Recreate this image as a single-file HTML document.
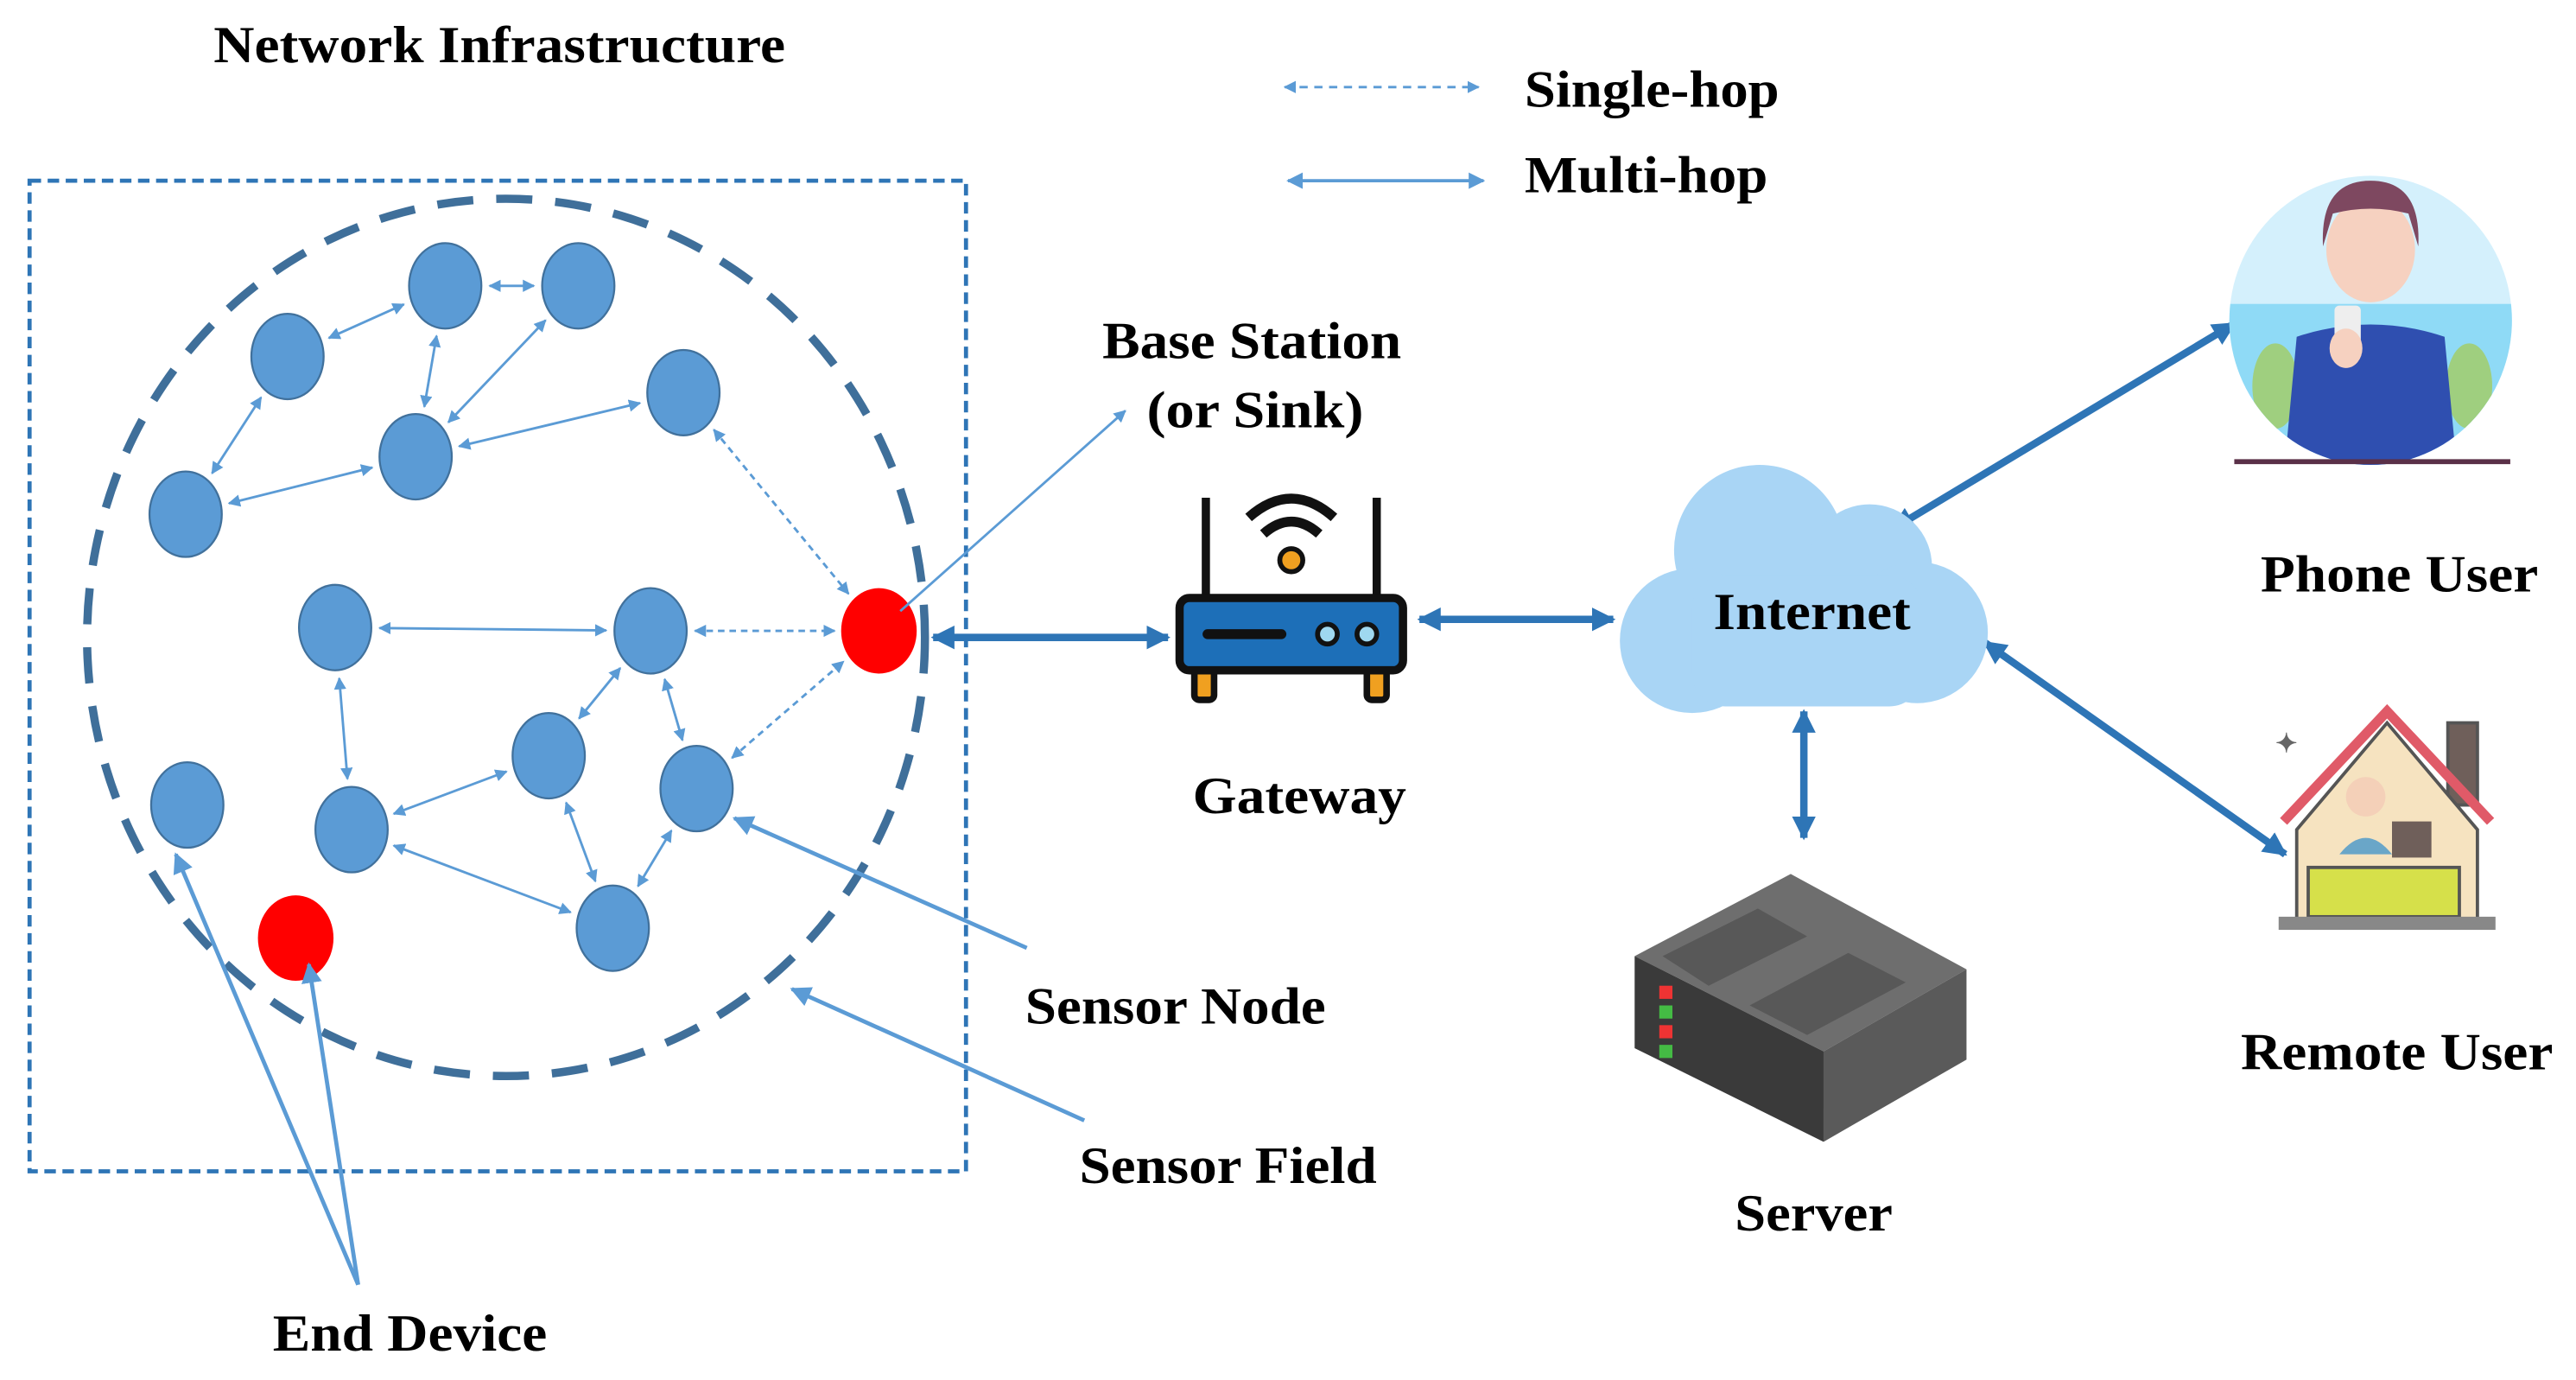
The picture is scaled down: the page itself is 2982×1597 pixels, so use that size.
<!DOCTYPE html>
<html><head><meta charset="utf-8"><style>
html,body{margin:0;padding:0;background:#fff;width:2982px;height:1597px;overflow:hidden}
svg{display:block}
text{font-family:"Liberation Serif",serif;font-weight:bold;font-size:32px;fill:#000}
</style></head><body>
<svg id="s" width="2982" height="1597" viewBox="0 0 1568 840" preserveAspectRatio="none" xmlns="http://www.w3.org/2000/svg">
<defs>
<marker id="a" viewBox="0 0 10 10" refX="9" refY="5" markerWidth="5" markerHeight="5" orient="auto-start-reverse"><path d="M0,0L10,5L0,10z" fill="#5b9bd5"/></marker>
<marker id="b" viewBox="0 0 10 10" refX="9" refY="5" markerWidth="3.2" markerHeight="3.2" orient="auto-start-reverse"><path d="M0,0L10,5L0,10z" fill="#2e75b6"/></marker>
<clipPath id="pc"><ellipse cx="1443" cy="195" rx="86" ry="88"/></clipPath>
</defs>
<text x="130" y="38" textLength="348" lengthAdjust="spacingAndGlyphs">Network Infrastructure</text>
<line x1="782" y1="53" x2="900" y2="53" stroke="#5b9bd5" stroke-width="1.5" stroke-dasharray="5,4" marker-start="url(#a)" marker-end="url(#a)"/>
<text x="928" y="65" textLength="155" lengthAdjust="spacingAndGlyphs">Single-hop</text>
<line x1="784" y1="110" x2="903" y2="110" stroke="#5b9bd5" stroke-width="2" marker-start="url(#a)" marker-end="url(#a)"/>
<text x="928" y="117" textLength="148" lengthAdjust="spacingAndGlyphs">Multi-hop</text>
<rect x="18" y="110" width="570" height="603" fill="none" stroke="#2e75b6" stroke-width="2.5" stroke-dasharray="7,4"/>
<ellipse cx="308" cy="388" rx="255" ry="267" fill="none" stroke="#3f6f9a" stroke-width="5" stroke-dasharray="22,14"/>
<g id="edges"></g>
<g id="nodes"></g>
<line x1="548" y1="372" x2="685" y2="250" stroke="#5b9bd5" stroke-width="1.5" marker-end="url(#a)"/>
<line x1="625" y1="577" x2="447" y2="498" stroke="#5b9bd5" stroke-width="2.5" marker-end="url(#a)"/>
<line x1="660" y1="682" x2="482" y2="602" stroke="#5b9bd5" stroke-width="2.5" marker-end="url(#a)"/>
<line x1="218" y1="782" x2="107" y2="520" stroke="#5b9bd5" stroke-width="2.5" marker-end="url(#a)"/>
<line x1="218" y1="782" x2="188" y2="587" stroke="#5b9bd5" stroke-width="2.5" marker-end="url(#a)"/>
<text x="671" y="218" textLength="182" lengthAdjust="spacingAndGlyphs">Base Station</text>
<text x="698" y="260" textLength="132" lengthAdjust="spacingAndGlyphs">(or Sink)</text>
<text x="624" y="623" textLength="183" lengthAdjust="spacingAndGlyphs">Sensor Node</text>
<text x="657" y="720" textLength="181" lengthAdjust="spacingAndGlyphs">Sensor Field</text>
<text x="166" y="822" textLength="167" lengthAdjust="spacingAndGlyphs">End Device</text>
<g stroke="#2e75b6" stroke-width="4.5" fill="none">
<line x1="568" y1="388" x2="711" y2="388" marker-start="url(#b)" marker-end="url(#b)"/>
<line x1="864" y1="377" x2="982" y2="377" marker-start="url(#b)" marker-end="url(#b)"/>
<line x1="1152" y1="322" x2="1360" y2="197" marker-start="url(#b)" marker-end="url(#b)"/>
<line x1="1208" y1="391" x2="1391" y2="520" marker-start="url(#b)" marker-end="url(#b)"/>
<line x1="1098" y1="433" x2="1098" y2="510" marker-start="url(#b)" marker-end="url(#b)"/>
</g>
<g>
<path d="M760,315 Q786,292 812,315" stroke="#111" stroke-width="6" fill="none"/>
<path d="M769,325 Q786,310 803,325" stroke="#111" stroke-width="6" fill="none"/>
<circle cx="786" cy="341" r="7" fill="#f0a020" stroke="#111" stroke-width="3"/>
<line x1="734" y1="303" x2="734" y2="364" stroke="#111" stroke-width="5"/>
<line x1="838" y1="303" x2="838" y2="364" stroke="#111" stroke-width="5"/>
<rect x="727" y="404" width="12" height="22" rx="3" fill="#f0a020" stroke="#111" stroke-width="4"/>
<rect x="832" y="404" width="12" height="22" rx="3" fill="#f0a020" stroke="#111" stroke-width="4"/>
<rect x="718" y="364" width="136" height="44" rx="6" fill="#1d6fb8" stroke="#111" stroke-width="5"/>
<line x1="735" y1="386" x2="780" y2="386" stroke="#111" stroke-width="6" stroke-linecap="round"/>
<circle cx="808" cy="386" r="6" fill="#9fd8f0" stroke="#111" stroke-width="3"/>
<circle cx="832" cy="386" r="6" fill="#9fd8f0" stroke="#111" stroke-width="3"/>
</g>
<text x="726" y="495" textLength="130" lengthAdjust="spacingAndGlyphs">Gateway</text>
<g fill="#a9d5f5">
<circle cx="1071" cy="335" r="52"/>
<circle cx="1138" cy="345" r="38"/>
<circle cx="1167" cy="385" r="43"/>
<circle cx="1030" cy="390" r="44"/>
<rect x="1030" y="350" width="140" height="80" rx="20"/>
</g>
<text x="1043" y="383" textLength="120" lengthAdjust="spacingAndGlyphs">Internet</text>
<g clip-path="url(#pc)">
<rect x="1355" y="105" width="180" height="180" fill="#d4f0fc"/>
<rect x="1355" y="185" width="180" height="100" fill="#8fdaf6"/>
<ellipse cx="1385" cy="235" rx="14" ry="26" fill="#9fcf7f"/>
<ellipse cx="1503" cy="235" rx="14" ry="26" fill="#9fcf7f"/>
<path d="M1390,290 L1398,205 Q1443,190 1488,205 L1496,290z" fill="#2f4fb0"/>
<ellipse cx="1443" cy="152" rx="27" ry="32" fill="#f6d1c0"/>
<path d="M1414,150 Q1412,110 1443,110 Q1474,110 1472,150 L1466,130 Q1443,124 1420,130z" fill="#7e4860"/>
<rect x="1421" y="186" width="16" height="32" rx="3" fill="#eee"/>
<ellipse cx="1428" cy="212" rx="10" ry="12" fill="#f6d1c0"/>
</g>
<line x1="1360" y1="281" x2="1528" y2="281" stroke="#5a3048" stroke-width="3"/>
<text x="1376" y="360" textLength="169" lengthAdjust="spacingAndGlyphs">Phone User</text>
<g>
<rect x="1490" y="440" width="18" height="50" fill="#6f5f5a" stroke="#555" stroke-width="2"/>
<path d="M1398,505 L1453,440 L1508,505 L1508,560 L1398,560z" fill="#f6e3c0" stroke="#555" stroke-width="2"/>
<path d="M1390,500 L1453,433 L1516,500" stroke="#e05a68" stroke-width="6" fill="none"/>
<circle cx="1440" cy="485" r="12" fill="#f4d0b8"/>
<path d="M1424,520 Q1440,500 1456,520z" fill="#6aa6c8"/>
<rect x="1456" y="500" width="24" height="22" fill="#6f5f5a"/>
<rect x="1405" y="528" width="92" height="30" fill="#d6e04a" stroke="#555" stroke-width="2"/>
<rect x="1387" y="558" width="132" height="8" fill="#888"/>
<text x="1385" y="458" style="font-size:16px;fill:#666">✦</text>
</g>
<text x="1364" y="651" textLength="190" lengthAdjust="spacingAndGlyphs">Remote User</text>
<g>
<path d="M995,582 L1090,532 L1197,590 L1110,640z" fill="#6e6e6e"/>
<path d="M1012,582 L1070,553 L1100,570 L1040,600z" fill="#585858"/>
<path d="M1065,612 L1125,580 L1160,598 L1100,630z" fill="#585858"/>
<path d="M995,582 L1110,640 L1110,695 L995,638z" fill="#3a3a3a"/>
<path d="M1110,640 L1197,590 L1197,645 L1110,695z" fill="#5a5a5a"/>
<rect x="1010" y="600" width="8" height="8" fill="#e33"/>
<rect x="1010" y="612" width="8" height="8" fill="#4b4"/>
<rect x="1010" y="624" width="8" height="8" fill="#e33"/>
<rect x="1010" y="636" width="8" height="8" fill="#4b4"/>
</g>
<text x="1056" y="749" textLength="96" lengthAdjust="spacingAndGlyphs">Server</text>
</svg>
<script>
var N=[[175,217],[271,174],[352,174],[416,239],[253,278],[113,313],[204,382],[396,384],[334,460],[424,480],[114,490],[214,505],[373,565]];
var R=[[535,384],[180,571]];
var solid=[[0,1],[1,2],[0,5],[1,4],[2,4],[3,4],[4,5],[6,7],[6,11],[11,8],[7,8],[7,9],[8,12],[9,12],[11,12]];
var dashed=[[3,'r'],[7,'r'],[9,'r']];
var ns="http://www.w3.org/2000/svg",E=document.getElementById('edges'),G=document.getElementById('nodes');
function ln(p,q,d){var dx=q[0]-p[0],dy=q[1]-p[1],L=Math.hypot(dx,dy),ux=dx/L,uy=dy/L;
function off(u,v){return 1/Math.sqrt((u*u)/(25*25)+(v*v)/(29*29));}
var o=off(ux,uy)+2;var l=document.createElementNS(ns,'line');
l.setAttribute('x1',p[0]+ux*o);l.setAttribute('y1',p[1]+uy*o);l.setAttribute('x2',q[0]-ux*o);l.setAttribute('y2',q[1]-uy*o);
l.setAttribute('stroke','#5b9bd5');l.setAttribute('stroke-width','1.5');if(d)l.setAttribute('stroke-dasharray','4,3');
l.setAttribute('marker-start','url(#a)');l.setAttribute('marker-end','url(#a)');E.appendChild(l);}
solid.forEach(function(e){ln(N[e[0]],N[e[1]],false)});
dashed.forEach(function(e){ln(N[e[0]],R[0],true)});
N.forEach(function(p){var c=document.createElementNS(ns,'ellipse');c.setAttribute('cx',p[0]);c.setAttribute('cy',p[1]);c.setAttribute('rx',22);c.setAttribute('ry',26);c.setAttribute('fill','#5b9bd5');c.setAttribute('stroke','#41719c');c.setAttribute('stroke-width','1.2');G.appendChild(c);});
R.forEach(function(p){var c=document.createElementNS(ns,'ellipse');c.setAttribute('cx',p[0]);c.setAttribute('cy',p[1]);c.setAttribute('rx',23);c.setAttribute('ry',26);c.setAttribute('fill','#ff0000');G.appendChild(c);});
</script>
</body></html>
